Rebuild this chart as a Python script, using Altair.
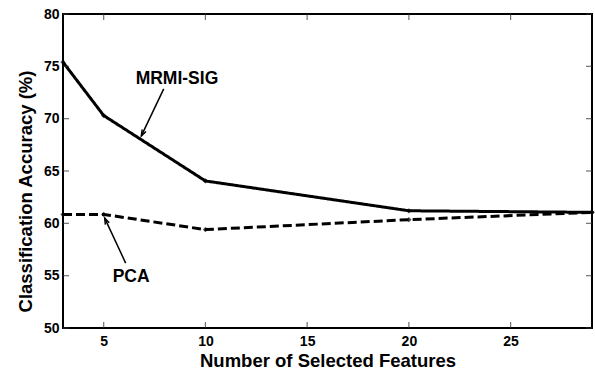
import altair as alt
import pandas as pd

# Classification accuracy vs. number of selected features
features = [3, 5, 10, 20, 29]
mrmi_sig = [75.4, 70.3, 64.05, 61.2, 61.05]
pca = [60.85, 60.85, 59.4, 60.35, 61.05]

x_ticks = [5, 10, 15, 20, 25]
y_ticks = [50, 55, 60, 65, 70, 75, 80]

# Callout labels and their arrows (tail -> head, in data units)
labels = ["MRMI-SIG", "PCA"]
label_x = [8.6, 6.35]
label_y = [73.8, 54.9]
arrow_x0 = [7.95, 6.08]
arrow_y0 = [72.85, 56.2]
arrow_x1 = [6.85, 5.05]
arrow_y1 = [68.35, 60.5]
arrow_angle = [206.6, 335.0]

W, H = 529, 314
FONT = "Liberation Sans"

df = pd.DataFrame({
    "features": features * 2,
    "acc": mrmi_sig + pca,
    "method": ["MRMI-SIG"] * len(features) + ["PCA"] * len(features),
})
ann = pd.DataFrame({
    "label": labels, "lx": label_x, "ly": label_y,
    "x0": arrow_x0, "y0": arrow_y0, "x1": arrow_x1, "y1": arrow_y1,
    "angle": arrow_angle,
})
xt = pd.DataFrame({"t": x_ticks})
yt = pd.DataFrame({"t": y_ticks})

xs = alt.Scale(domain=[3, 29], nice=False, zero=False)
ys = alt.Scale(domain=[50, 80], nice=False, zero=False)

x_axis = alt.Axis(values=x_ticks, title="Number of Selected Features",
                  tickSize=0, labelPadding=6, domain=False, grid=False,
                  titlePadding=3)
y_axis = alt.Axis(values=y_ticks, title="Classification Accuracy (%)",
                  tickSize=0, labelPadding=4, domain=False, grid=False,
                  titlePadding=8, titleY=177)

base = alt.Chart(df)

lines = base.mark_line(color="black", strokeWidth=3).encode(
    x=alt.X("features:Q", scale=xs, axis=x_axis),
    y=alt.Y("acc:Q", scale=ys, axis=y_axis),
    strokeDash=alt.StrokeDash("method:N", scale=alt.Scale(
        domain=["MRMI-SIG", "PCA"], range=[[1, 0], [9, 4]]), legend=None),
    detail="method:N",
)
pts = base.mark_point(shape="diamond", filled=True, color="black", size=28).encode(
    x=alt.X("features:Q", scale=xs),
    y=alt.Y("acc:Q", scale=ys),
)

# inward ticks on all four sides
tick_style = dict(color="#333333", thickness=1.2, size=6)
bottom = alt.Chart(xt).mark_tick(orient="vertical", **tick_style).encode(
    x=alt.X("t:Q", scale=xs), y=alt.value(H - 3))
top = alt.Chart(xt).mark_tick(orient="vertical", **tick_style).encode(
    x=alt.X("t:Q", scale=xs), y=alt.value(3))
left = alt.Chart(yt).mark_tick(orient="horizontal", **tick_style).encode(
    y=alt.Y("t:Q", scale=ys), x=alt.value(3))
right = alt.Chart(yt).mark_tick(orient="horizontal", **tick_style).encode(
    y=alt.Y("t:Q", scale=ys), x=alt.value(W - 3))

a = alt.Chart(ann)
text = a.mark_text(font=FONT, fontWeight="bold", fontSize=17.5, color="black").encode(
    x=alt.X("lx:Q", scale=xs), y=alt.Y("ly:Q", scale=ys), text="label:N")
shaft = a.mark_rule(color="black", strokeWidth=1.5).encode(
    x=alt.X("x0:Q", scale=xs), y=alt.Y("y0:Q", scale=ys),
    x2="x1:Q", y2="y1:Q")
head = a.mark_point(shape="M -0.35 1 L 0 0 L 0.35 1", filled=False,
                    color="black", strokeWidth=1.5, size=150, opacity=1).encode(
    x=alt.X("x1:Q", scale=xs), y=alt.Y("y1:Q", scale=ys),
    angle=alt.Angle("angle:Q", scale=None))

chart = alt.layer(lines, pts, bottom, top, left, right, shaft, head, text).properties(
    width=W, height=H,
    autosize=alt.AutoSizeParams(type="none"),
    padding={"left": 63, "top": 14, "right": 3, "bottom": 43},
    background="white",
).configure_view(
    stroke="black", strokeWidth=2,
).configure_axis(
    labelFont=FONT, labelFontWeight="bold", labelFontSize=14, labelColor="black",
    titleFont=FONT, titleFontWeight="bold", titleFontSize=18.5, titleColor="black",
)

chart.save("out.html", embed_options={"renderer": "svg", "actions": False})
